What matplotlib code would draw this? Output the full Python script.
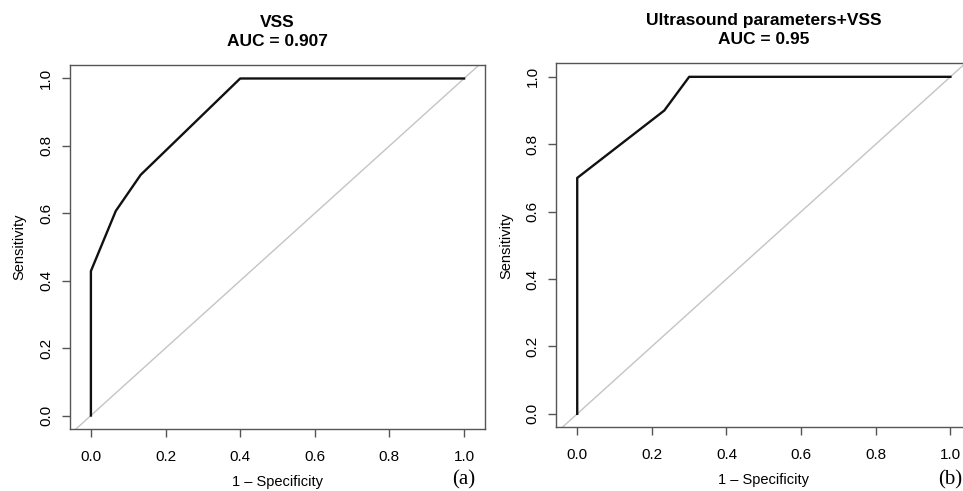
import numpy as np
import matplotlib
matplotlib.use("Agg")
import matplotlib.pyplot as plt

plt.rcParams['font.family'] = ['Liberation Sans', 'DejaVu Sans']

# ROC points (1 - specificity, sensitivity)
fpr_vss = [0.0, 0.0, 0.0667, 0.1333, 0.4, 1.0]
tpr_vss = [0.0, 0.4286, 0.607, 0.714, 1.0, 1.0]
fpr_us = [0.0, 0.0, 0.2333, 0.3, 1.0]
tpr_us = [0.0, 0.7, 0.9, 1.0, 1.0]

titles = ["VSS\nAUC = 0.907", "Ultrasound parameters+VSS\nAUC = 0.95"]
tags = ["(a)", "(b)"]
ticks = [0.0, 0.2, 0.4, 0.6, 0.8, 1.0]

fig = plt.figure(figsize=(9.63, 4.91), dpi=100)
ax1 = fig.add_axes([0.0727, 0.1263, 0.4309, 0.7413])
ax2 = fig.add_axes([0.5777, 0.1297, 0.4309, 0.7413])

spine_col = '#555555'
for ax, fx, ty, title in zip([ax1, ax2], [fpr_vss, fpr_us], [tpr_vss, tpr_us], titles):
    ax.plot([-0.1, 1.1], [-0.1, 1.1], color='#c4c4c4', lw=1.0, zorder=1)
    ax.plot(fx, ty, color='#111111', lw=1.7, zorder=2)
    ax.set_xlim(-0.056, 1.056)
    ax.set_ylim(-0.04, 1.04)
    ax.set_xticks(ticks)
    ax.set_yticks(ticks)
    ax.set_xticklabels([f"{t:.1f}" for t in ticks], fontsize=11)
    ax.set_yticklabels([f"{t:.1f}" for t in ticks], fontsize=11, rotation=90, va='center')
    ax.tick_params(length=6, width=1, color=spine_col)
    ax.tick_params(axis='x', pad=9)
    ax.tick_params(axis='y', pad=6)
    for s in ax.spines.values():
        s.set_color(spine_col)
        s.set_linewidth(1.0)
    ax.set_xlabel("1 \u2013 Specificity", fontsize=10.5, labelpad=8)
    ax.set_ylabel("Sensitivity", fontsize=10.5, labelpad=9)
    ax.set_title(title, fontsize=12.5, fontweight='bold', pad=14, linespacing=1.3)

fig.text(464 / 963, 1 - 480 / 491, tags[0], fontsize=15, family='Liberation Serif',
         ha='center', va='center')
fig.text(950 / 963, 1 - 480 / 491, tags[1], fontsize=15, family='Liberation Serif',
         ha='center', va='center')

fig.savefig("out.png", dpi=100)
